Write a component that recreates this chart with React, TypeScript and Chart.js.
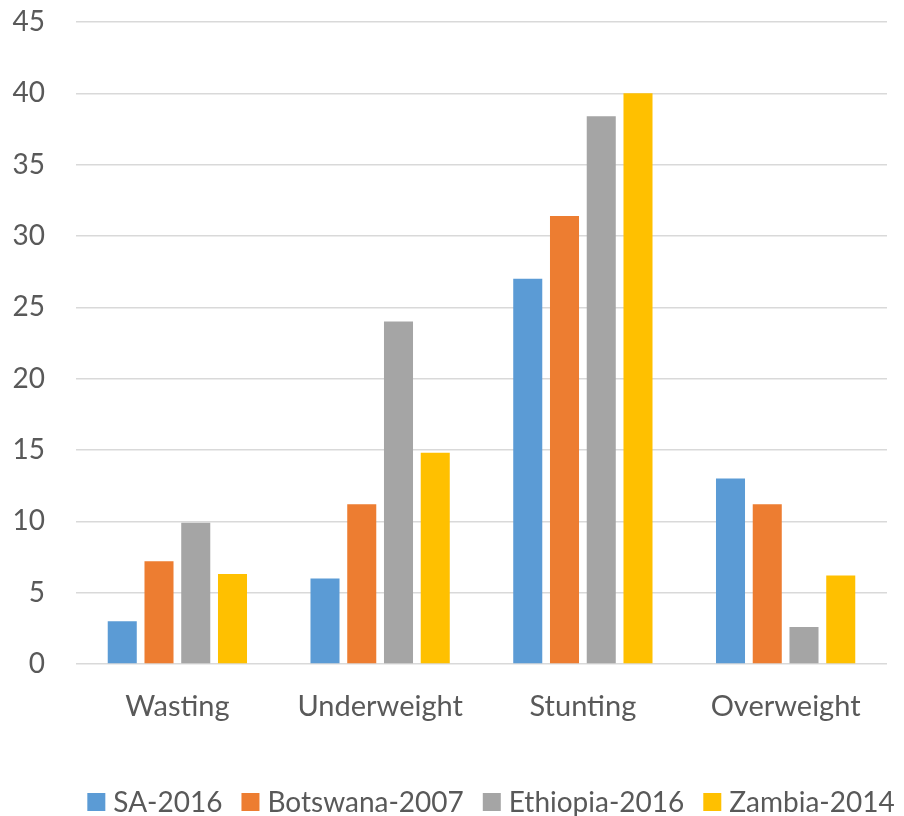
import React, { useEffect, useRef } from "react";
import { Chart, registerables } from "chart.js";

Chart.register(...registerables);

// Malnutrition indicators (%) by country and survey year
const categories = ["Wasting", "Underweight", "Stunting", "Overweight"];
const sa2016 = [3, 6, 27, 13];
const botswana2007 = [7.2, 11.2, 31.4, 11.2];
const ethiopia2016 = [9.9, 24, 38.4, 2.6];
const zambia2014 = [6.3, 14.8, 40, 6.2];
const seriesNames = ["SA-2016", "Botswana-2007", "Ethiopia-2016", "Zambia-2014"];
const seriesColors = ["#5B9BD5", "#ED7D31", "#A5A5A5", "#FFC000"];
const yMin = 0;
const yMax = 45;
const yStep = 5;

const TEXT = "#595959";
const GRID = "#D9D9D9";
const FONT = "Lato, 'Open Sans', sans-serif";

// Bottom legend: square swatch, label, laid out in one centred row
const legendRow = {
  id: "legendRow",
  afterDraw(chart: any) {
    const ctx = chart.ctx as CanvasRenderingContext2D;
    const box = 18;
    const gapText = 8;
    const gapItem = 19;
    const centerX = 491;
    const centerY = 802;
    ctx.save();
    ctx.font = `28px ${FONT}`;
    ctx.textBaseline = "middle";
    ctx.textAlign = "left";
    const items = chart.data.datasets.map((ds: any) => ({
      text: ds.label as string,
      color: ds.backgroundColor as string,
      w: ctx.measureText(ds.label).width,
    }));
    const total =
      items.reduce((s: number, it: any) => s + box + gapText + it.w, 0) +
      gapItem * (items.length - 1);
    let x = centerX - total / 2;
    for (const it of items) {
      ctx.fillStyle = it.color;
      ctx.fillRect(x, centerY - box / 2, box, box);
      ctx.fillStyle = TEXT;
      ctx.fillText(it.text, x + box + gapText, centerY + 1);
      x += box + gapText + it.w + gapItem;
    }
    ctx.restore();
  },
};

export default function App() {
  const canvasRef = useRef<HTMLCanvasElement | null>(null);

  useEffect(() => {
    document.body.style.margin = "0";
    const canvas = canvasRef.current;
    if (!canvas) return;
    const seriesValues = [sa2016, botswana2007, ethiopia2016, zambia2014];
    const chart = new Chart(canvas, {
      type: "bar",
      data: {
        labels: categories,
        datasets: seriesNames.map((name, i) => ({
          label: name,
          data: seriesValues[i],
          backgroundColor: seriesColors[i],
          borderWidth: 0,
          categoryPercentage: 0.725,
          barPercentage: 0.79,
        })),
      },
      options: {
        animation: false,
        responsive: false,
        maintainAspectRatio: false,
        layout: { padding: { top: 22, right: 17, left: 0, bottom: 92 } },
        plugins: {
          tooltip: { enabled: false },
          legend: { display: false },
        },
        scales: {
          y: {
            min: yMin,
            max: yMax,
            ticks: {
              stepSize: yStep,
              color: TEXT,
              padding: 31,
              font: { family: FONT, size: 28 },
            },
            grid: { color: GRID, lineWidth: 1.5, drawTicks: false },
            border: { display: false },
            afterFit: (scale: any) => {
              scale.width = 76;
              scale.paddingTop = 0;
              scale.paddingBottom = 0;
            },
          },
          x: {
            ticks: {
              color: TEXT,
              padding: 25,
              font: { family: FONT, size: 29 },
            },
            grid: { display: false, drawTicks: false },
            border: { display: false },
            afterFit: (scale: any) => {
              scale.height = 60;
              scale.paddingLeft = 0;
              scale.paddingRight = 0;
            },
          },
        },
      },
      plugins: [legendRow],
    });
    return () => chart.destroy();
  }, []);

  return (
    <div style={{ width: 904, height: 816, background: "#fff" }}>
      <canvas ref={canvasRef} width={904} height={816} />
    </div>
  );
}
